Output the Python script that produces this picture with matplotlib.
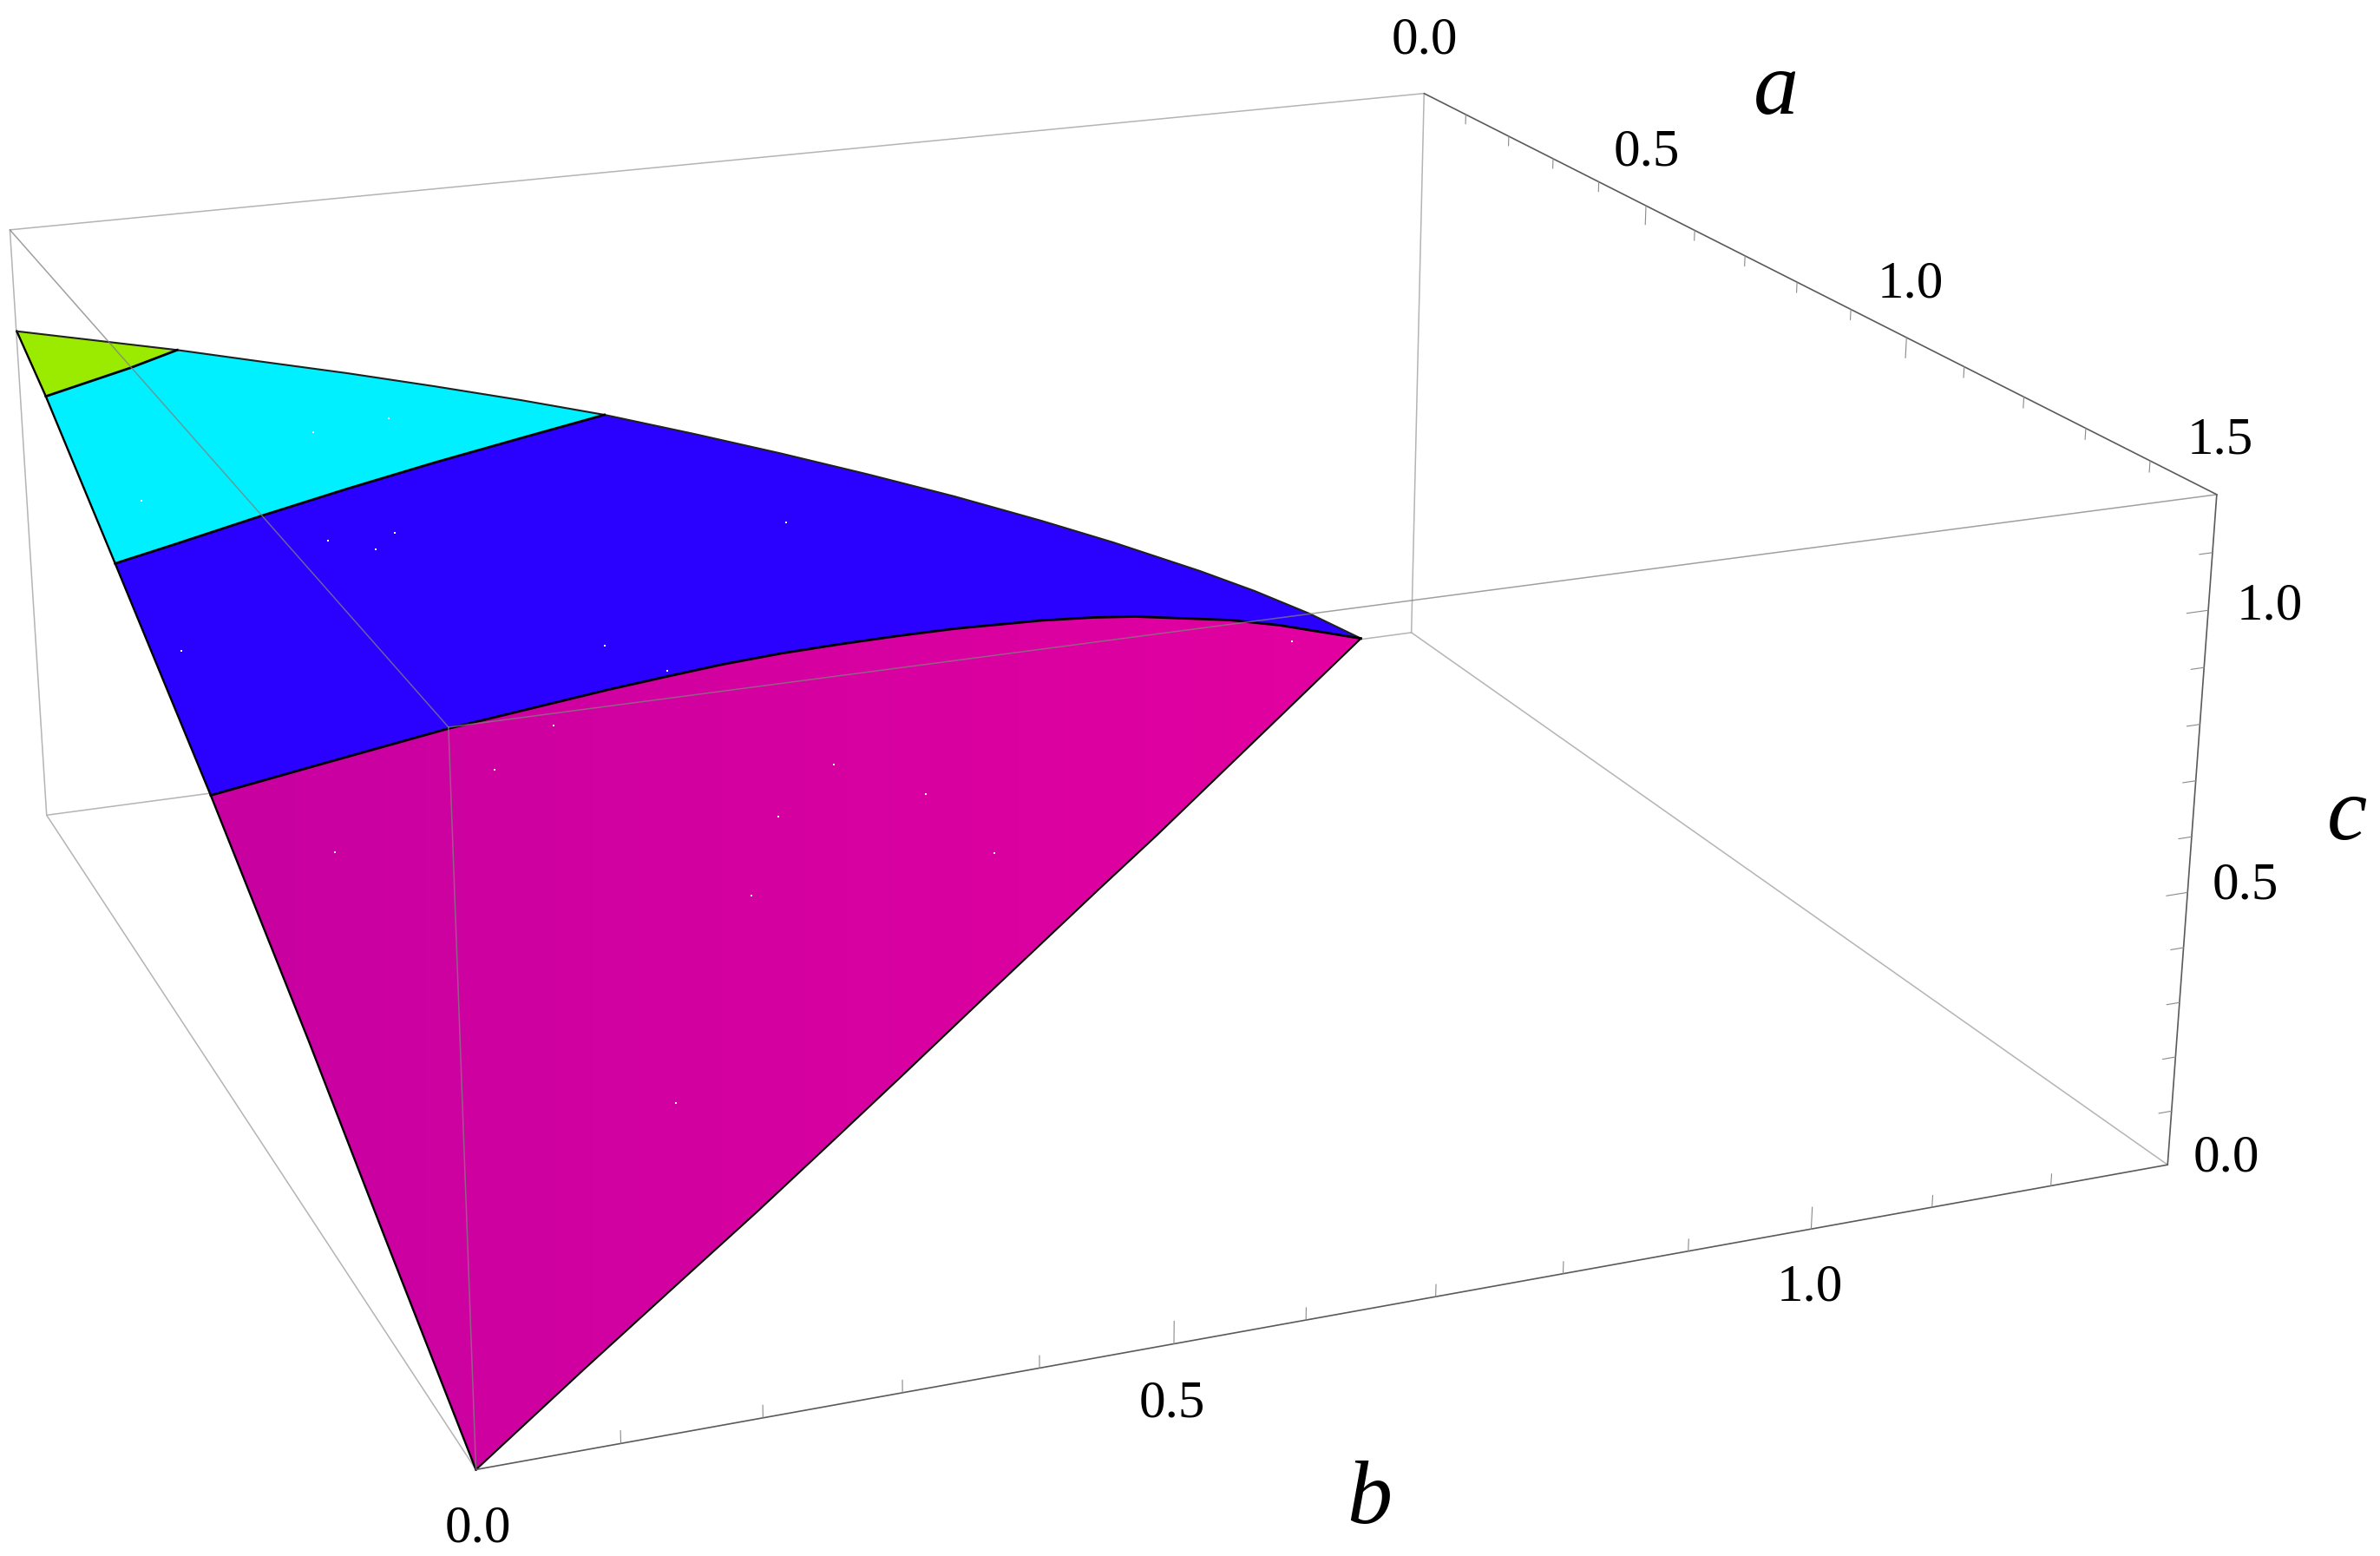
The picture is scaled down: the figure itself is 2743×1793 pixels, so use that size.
import matplotlib
matplotlib.use('Agg')
import matplotlib.pyplot as plt
from matplotlib.colors import LinearSegmentedColormap
from matplotlib.patches import Polygon
import numpy as np

plt.rcParams['font.family'] = ['Liberation Serif', 'DejaVu Serif']

# box limits and where its corners sit in the picture (a, b, c) -> (x, y)
a_max, b_max, c_max = 1.5, 1.3, 1.2
box_corners = {
    (0, 0, 0): (53.6, 938.7),
    (0, 1, 0): (1627, 729.5),
    (1, 0, 0): (548.5, 1693.6),
    (1, 1, 0): (2498, 1342),
    (0, 0, 1): (11.5, 265),
    (0, 1, 1): (1641, 107.5),
    (1, 0, 1): (517, 838.4),
    (1, 1, 1): (2555, 569.5),
}

a_ticks_major = [0.0, 0.5, 1.0, 1.5]
a_ticks_minor = [0.1, 0.2, 0.3, 0.4, 0.6, 0.7, 0.8, 0.9, 1.1, 1.2, 1.3, 1.4]
b_ticks_major = [0.0, 0.5, 1.0]
b_ticks_minor = [0.1, 0.2, 0.3, 0.4, 0.6, 0.7, 0.8, 0.9, 1.1, 1.2]
c_ticks_major = [0.0, 0.5, 1.0]
c_ticks_minor = [0.1, 0.2, 0.3, 0.4, 0.6, 0.7, 0.8, 0.9, 1.1]

a_labels = ['0.0', '0.5', '1.0', '1.5']
a_label_x = [1641.6, 1897.5, 2201.7, 2559]
a_label_y = [46.7, 176, 328, 508]
b_labels = ['0.0', '0.5', '1.0']
b_label_x = [551, 1350.7, 2086]
b_label_y = [1762, 1618, 1484]
c_labels = ['0.0', '0.5', '1.0']
c_label_x = [2565.7, 2588, 2615.7]
c_label_y = [1335, 1021, 699]

# surface outline
edge_left_x = [19.3, 52.8, 132.7, 242.9, 356, 444, 548.5]
edge_left_y = [381.7, 456.7, 649.3, 916.5, 1200, 1427, 1693.6]
edge_top_x = [19.3, 204.3, 300, 400, 500, 600, 696.7, 800, 900, 1000, 1100, 1200, 1283,
              1383, 1446, 1509, 1568.5]
edge_top_y = [381.7, 403.3, 416.5, 430, 445, 461, 478, 500, 522.5, 546.5, 572, 600, 625,
              658, 681, 707, 735.7]
edge_bottom_x = [548.5, 673.3, 790, 873.3, 956.7, 1040, 1133.3, 1266.7, 1333.3, 1450, 1568.5]
edge_bottom_y = [1693.6, 1577.7, 1471.3, 1395.7, 1317.7, 1239.3, 1150.5, 1024.5, 962.5, 850, 735.7]
green_cyan_x = [52.8, 150, 204.3]
green_cyan_y = [456.7, 424, 403.3]
cyan_blue_x = [132.7, 200, 301.7, 400, 500, 600, 696.7]
cyan_blue_y = [649.3, 627.7, 594.3, 563.3, 533.3, 505, 478]
blue_magenta_x = [242.9, 382.7, 516.8, 700, 766.7, 833.3, 900, 966.7, 1033.3, 1100, 1200,
                  1260, 1308.5, 1417.6, 1475, 1568.5]
blue_magenta_y = [916.5, 877, 839.5, 795, 780, 765.5, 753, 742.5, 733, 724.5, 715,
                  711.5, 710.5, 714.5, 720.5, 735.7]

speck_x = [447.7, 361.3, 162.5, 454.5, 377.9, 433, 906, 768.9, 1488.8, 960.6, 209.2,
           697, 637.8, 570, 386, 779, 1067, 897.4, 1145.8, 866]
speck_y = [481.7, 498.3, 576.7, 614.3, 623, 633.3, 602, 772.7, 739, 880.7, 749.6,
           743.5, 836, 887, 982, 1270.8, 915, 941, 983, 1032]

green = '#9BEB00'
cyan = '#00F0FF'
blue = '#2A00FF'
magenta_left = '#C800A0'
magenta_right = '#E300A0'


# fit the perspective view to the box corners
rows = []
rhs = []
for (i, j, k), (x, y) in box_corners.items():
    p = [i * a_max, j * b_max, k * c_max, 1]
    rows.append(p + [0, 0, 0, 0] + [-x * v for v in p[:3]])
    rows.append([0, 0, 0, 0] + p + [-y * v for v in p[:3]])
    rhs += [x, y]
h = np.linalg.lstsq(np.array(rows), np.array(rhs), rcond=None)[0]
view = np.append(h, 1).reshape(3, 4)


def project(a, b, c):
    u = view @ np.array([a, b, c, 1.0])
    return u[0] / u[2], u[1] / u[2]


def edge(ax, p, q, **kw):
    x0, y0 = project(*p)
    x1, y1 = project(*q)
    ax.plot([x0, x1], [y0, y1], solid_capstyle='round', **kw)


fig = plt.figure(figsize=(27.43, 17.93), dpi=100)
ax = fig.add_axes([0, 0, 1, 1])

# box edges behind the surface
back = dict(color='#b4b4b4', lw=1.1, zorder=1)
edge(ax, (0, 0, c_max), (0, b_max, c_max), **back)
edge(ax, (0, 0, 0), (0, 0, c_max), **back)
edge(ax, (0, 0, 0), (a_max, 0, 0), **back)
edge(ax, (0, 0, 0), (0, b_max, 0), **back)
edge(ax, (0, b_max, 0), (0, b_max, c_max), **back)
edge(ax, (0, b_max, 0), (a_max, b_max, 0), **back)

# surface regions, each one walks round between two dividers
top1 = edge_top_x.index(204.3)
top2 = edge_top_x.index(696.7)

gx = edge_left_x[:2] + green_cyan_x[1:]
gy = edge_left_y[:2] + green_cyan_y[1:]
ax.fill(gx, gy, color=green, lw=0, zorder=2)

cx = green_cyan_x + edge_top_x[top1 + 1:top2 + 1] + cyan_blue_x[::-1][1:]
cy = green_cyan_y + edge_top_y[top1 + 1:top2 + 1] + cyan_blue_y[::-1][1:]
ax.fill(cx, cy, color=cyan, lw=0, zorder=2)

bx = cyan_blue_x + edge_top_x[top2 + 1:] + blue_magenta_x[::-1][1:]
by = cyan_blue_y + edge_top_y[top2 + 1:] + blue_magenta_y[::-1][1:]
ax.fill(bx, by, color=blue, lw=0, zorder=2)

mx = blue_magenta_x + edge_bottom_x[::-1][1:] + edge_left_x[4:-1][::-1]
my = blue_magenta_y + edge_bottom_y[::-1][1:] + edge_left_y[4:-1][::-1]
cmap = LinearSegmentedColormap.from_list('shade', [magenta_left, magenta_right])
im = ax.imshow(np.linspace(0, 1, 256).reshape(1, -1), cmap=cmap, aspect='auto',
               extent=(240, 1570, 1700, 700), zorder=2, interpolation='bilinear')
clip = Polygon(np.column_stack([mx, my]), closed=True, transform=ax.transData)
im.set_clip_path(clip)

ax.scatter(speck_x, speck_y, s=4.5, color='white', marker='s', lw=0, zorder=3)

# outlines
ax.plot(edge_left_x, edge_left_y, color='black', lw=1.7, zorder=4)
ax.plot(edge_top_x, edge_top_y, color='#202020', lw=1.5, zorder=4)
ax.plot(edge_bottom_x, edge_bottom_y, color='black', lw=1.5, zorder=4)
ax.plot(green_cyan_x, green_cyan_y, color='black', lw=2, zorder=4)
ax.plot(cyan_blue_x, cyan_blue_y, color='black', lw=2, zorder=4)
ax.plot(blue_magenta_x, blue_magenta_y, color='black', lw=2, zorder=4)

# box edges in front of the surface
front = dict(color='#808080', lw=1.1, alpha=0.75, zorder=5)
edge(ax, (0, 0, c_max), (a_max, 0, c_max), **front)
edge(ax, (a_max, 0, 0), (a_max, 0, c_max), **front)
edge(ax, (a_max, 0, c_max), (a_max, b_max, c_max), **front)

# the three framed axes
axis_line = dict(color='#5a5a5a', lw=1.2, zorder=5)
edge(ax, (0, b_max, c_max), (a_max, b_max, c_max), **axis_line)
edge(ax, (a_max, 0, 0), (a_max, b_max, 0), **axis_line)
edge(ax, (a_max, b_max, 0), (a_max, b_max, c_max), **axis_line)

tick = dict(color='#8a8a8a', lw=0.8, zorder=5)
for t in a_ticks_minor:
    edge(ax, (t, b_max, c_max), (t, b_max, c_max - 0.02), **tick)
for t in a_ticks_major[1:-1]:
    edge(ax, (t, b_max, c_max), (t, b_max, c_max - 0.038), **tick)
for t in b_ticks_minor:
    edge(ax, (a_max, t, 0), (a_max, t, 0.022), **tick)
for t in b_ticks_major[1:]:
    edge(ax, (a_max, t, 0), (a_max, t, 0.04), **tick)
for t in c_ticks_minor:
    edge(ax, (a_max, b_max, t), (a_max, b_max - 0.011, t), **tick)
for t in c_ticks_major[1:]:
    edge(ax, (a_max, b_max, t), (a_max, b_max - 0.018, t), **tick)

for labels, xs, ys in [(a_labels, a_label_x, a_label_y),
                       (b_labels, b_label_x, b_label_y),
                       (c_labels, c_label_x, c_label_y)]:
    for s, x, y in zip(labels, xs, ys):
        ax.text(x, y, s, fontsize=44, ha='center', va='center', color='black')

ax.text(2047, 106, 'a', fontsize=75, style='italic', ha='center', va='center')
ax.text(1578, 1730, 'b', fontsize=75, style='italic', ha='center', va='center')
ax.text(2705, 942, 'c', fontsize=75, style='italic', ha='center', va='center')

ax.set_xlim(0, 2743)
ax.set_ylim(1793, 0)
ax.axis('off')

fig.savefig('out.png', dpi=100, facecolor='white')
